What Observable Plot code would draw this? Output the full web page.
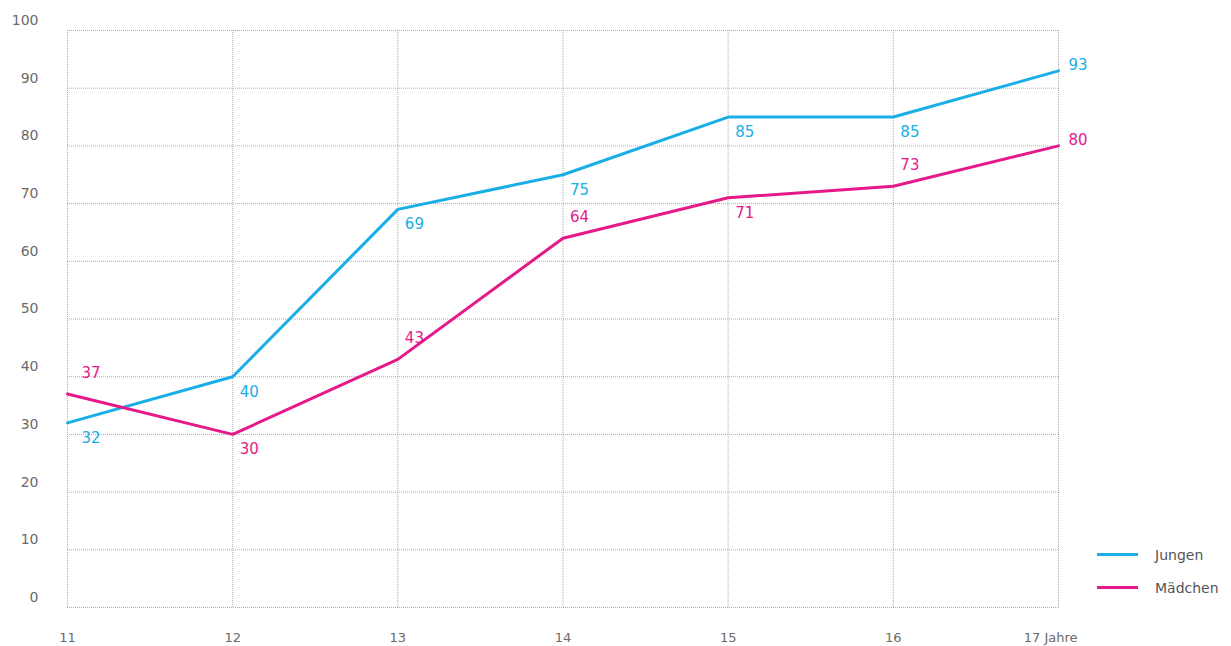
<!DOCTYPE html>
<html>
<head>
<meta charset="utf-8">
<script src="https://cdn.jsdelivr.net/npm/d3@7"></script>
<script src="https://cdn.jsdelivr.net/npm/@observablehq/plot@0.6"></script>
<style>
  html, body { margin: 0; padding: 0; background: #fff; }
  #wrap { position: relative; width: 1231px; height: 646px; }
  #legend { position: absolute; left: 1097px; top: 538px; font-family: "DejaVu Sans", sans-serif; font-size: 14px; color: #555; }
  #legend .item { display: flex; align-items: center; height: 33px; }
  #legend .sw { width: 41px; height: 3px; margin-right: 17px; }
</style>
</head>
<body>
<div id="wrap"><div id="chart"></div><div id="legend"></div></div>
<script>
const ages = [11, 12, 13, 14, 15, 16, 17];
const jungen = [32, 40, 69, 75, 85, 85, 93];
const maedchen = [37, 30, 43, 64, 71, 73, 80];
const jungenLabelSide = ["below", "below", "below", "below", "below", "below", "right"];
const maedchenLabelSide = ["above", "below", "above", "above", "below", "above", "right"];
const seriesNames = ["Jungen", "Mädchen"];
const seriesColors = ["#1aaee6", "#e5198a"];
const yTicks = [0, 10, 20, 30, 40, 50, 60, 70, 80, 90, 100];
const lastAgeLabel = "17 Jahre";

const rows = [];
ages.forEach((a, i) => {
  rows.push({age: a, value: jungen[i], series: seriesNames[0], side: jungenLabelSide[i], first: i === 0});
  rows.push({age: a, value: maedchen[i], series: seriesNames[1], side: maedchenLabelSide[i], first: i === 0});
});

const font = "DejaVu Sans, sans-serif";
const labelMark = (side, dx, dy) => Plot.text(rows.filter(d => d.side === side), {
  x: "age", y: "value", text: d => String(d.value), fill: "series",
  textAnchor: "start", dx: d => 0, fontSize: 15
});

function labels(side, dy, dxNormal, dxFirst) {
  return [
    Plot.text(rows.filter(d => d.side === side && !d.first), {
      x: "age", y: "value", text: d => String(d.value), fill: "series",
      textAnchor: "start", dx: dxNormal, dy: dy, fontSize: 15, fontFamily: font
    }),
    Plot.text(rows.filter(d => d.side === side && d.first), {
      x: "age", y: "value", text: d => String(d.value), fill: "series",
      textAnchor: "start", dx: dxFirst, dy: dy, fontSize: 15, fontFamily: font
    })
  ];
}

const chart = Plot.plot({
  width: 1231,
  height: 646,
  marginLeft: 67,
  marginRight: 173,
  marginTop: 30,
  marginBottom: 39,
  style: {fontFamily: font, background: "#fff"},
  x: {domain: [11, 17], ticks: ages},
  y: {domain: [0, 100], ticks: yTicks},
  color: {domain: seriesNames, range: seriesColors},
  marks: [
    Plot.gridX(ages, {stroke: "#999", strokeOpacity: 0.8, strokeDasharray: "1,1"}),
    Plot.gridY(yTicks, {stroke: "#999", strokeOpacity: 0.8, strokeDasharray: "1,1"}),
    Plot.axisY(yTicks, {tickSize: 0, tickPadding: 29, dy: -10, fontSize: 14, fill: "#6a6a6a", label: null}),
    Plot.axisX(ages.slice(0, -1), {tickSize: 0, tickPadding: 25, fontSize: 13, fill: "#6a6a6a", tickFormat: d => String(d), label: null}),
    Plot.axisX([ages[ages.length - 1]], {tickSize: 0, tickPadding: 25, fontSize: 13, fill: "#6a6a6a", tickFormat: () => lastAgeLabel, textAnchor: "end", dx: 19, label: null}),
    Plot.line(rows, {x: "age", y: "value", stroke: "series", strokeWidth: 3, strokeLinejoin: "miter"}),
    ...labels("below", 15, 7, 14),
    ...labels("above", -21, 7, 14),
    ...labels("right", -6, 10, 10)
  ]
});
document.getElementById("chart").appendChild(chart);

const legend = document.getElementById("legend");
seriesNames.forEach((n, i) => {
  const item = document.createElement("div");
  item.className = "item";
  const sw = document.createElement("div");
  sw.className = "sw";
  sw.style.background = seriesColors[i];
  const t = document.createElement("span");
  t.textContent = n;
  item.appendChild(sw);
  item.appendChild(t);
  legend.appendChild(item);
});
</script>
</body>
</html>
